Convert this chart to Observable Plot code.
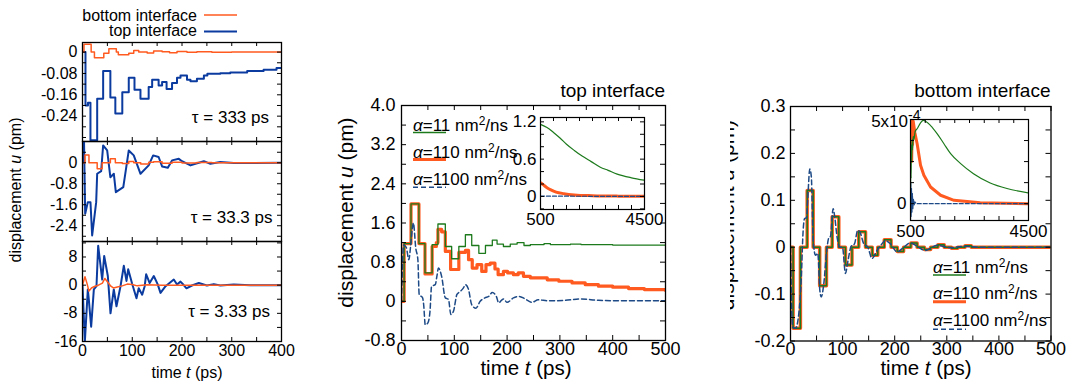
<!DOCTYPE html>
<html><head><meta charset="utf-8">
<script src="https://cdn.jsdelivr.net/npm/d3@7"></script>
<script src="https://cdn.jsdelivr.net/npm/@observablehq/plot@0.6"></script>
<style>
body{margin:0;background:#fff;}
#root{position:relative;width:1070px;height:385px;overflow:hidden;background:#fff;}
</style></head><body><div id="root"></div>
<script>
// ---------- DATA ----------
// Left column: top/bottom interface, three relaxation times tau
const tauLabels = ["333", "33.3", "3.33"];
const p1TopT = [0, 6, 11, 16, 29.5, 41.5, 56, 66, 80, 93, 104.5, 116.5, 133, 140, 153, 160, 169, 180, 190, 197, 210, 217, 230, 244, 251, 277, 297, 331, 364, 390, 400];
const p1TopU = [0, -0.2, -0.19, -0.33, -0.175, -0.071, -0.17, -0.23, -0.15, -0.096, -0.141, -0.175, -0.131, -0.104, -0.125, -0.112, -0.138, -0.116, -0.096, -0.088, -0.104, -0.109, -0.1, -0.088, -0.081, -0.079, -0.076, -0.071, -0.066, -0.06, -0.059];
const p1BotT = [0, 3, 17.4, 24, 42.8, 53, 68, 72, 93, 103, 113, 130, 143, 160, 175, 190, 210, 230, 260, 300, 400];
const p1BotU = [0, 0.029, 0, -0.021, -0.004, 0.0125, 0, -0.01, -0.004, 0.006, 0, -0.003, 0.004, 0.001, -0.002, 0.002, -0.001, 0.001, -0.001, 0, 0];
const p2TopT = [0, 2, 3, 5.4, 10.7, 16, 19.4, 27.5, 29.5, 37.5, 41.5, 49.6, 56, 63, 67, 82, 93, 103, 116.6, 133, 142, 153, 160, 171.5, 180, 193.6, 200, 217, 227, 244, 257, 277, 304, 400];
const p2TopU = [0, 0, 0.9, -1.94, -1.5, -1.5, -2.77, -1.5, -0.42, -0.32, 0.66, 0.47, -0.55, -0.42, -1.12, -0.93, 0.47, 0.28, -0.42, -0.1, 0.28, 0.22, -0.14, -0.19, 0.09, 0.15, 0.06, -0.1, -0.04, 0.06, -0.04, 0.03, -0.01, 0];
const p2BotT = [0, 5, 13, 29.5, 39.5, 56, 66, 80, 93, 103, 117, 133, 143, 160, 180, 200, 230, 260, 400];
const p2BotU = [0, 0.3, 0, -0.23, 0, 0.15, 0, -0.03, 0.05, 0, -0.05, 0.02, 0.04, -0.02, 0.02, -0.01, 0.01, 0, 0];
const p3TopT = [0, 4.7, 10.7, 12.7, 17.4, 22.8, 28.1, 31.5, 39.6, 43.6, 50.9, 56.3, 62.9, 68.3, 76.4, 83, 88.4, 91.8, 99.8, 108.5, 113, 120, 125, 128, 135, 143.3, 151, 156.8, 167, 183.5, 190, 197, 203, 209, 220, 233.8, 250, 264, 277, 304, 337, 400];
const p3TopU = [0, -16.1, -1.2, -4.1, -11.8, -1.2, -0.3, 11.2, 1.6, 8.3, 2.6, -8.0, -1.2, -6.0, -0.3, 5.5, 1.2, 4.5, 0.4, -3.7, -0.9, -2.7, -0.3, 3.1, 0.6, 2.6, 0.3, -2.2, -0.3, 1.6, 0.2, 1.0, 0.1, -0.9, -0.1, 0.6, -0.1, 0.3, -0.1, 0.2, 0, 0];
const p3BotT = [0, 5, 9, 13, 18, 25, 32, 40, 45, 52, 57, 62, 70, 80, 90, 100, 110, 130, 160, 400];
const p3BotU = [0, 2.4, 0.5, -1.7, -0.8, -0.3, 0, 0.6, 1.9, 0.6, -0.3, -0.8, -0.5, -0.2, 0.3, 0.2, -0.2, 0.1, 0, 0];

// Middle: top interface, three diffusivities alpha
const alphaValues = ["11", "110", "1100"];
const topGreenT = [0, 5, 18, 33, 44.5, 58, 69, 83, 95, 108.6, 121, 133, 146.5, 159, 172, 181, 193, 206, 219, 232, 244, 270, 282, 320, 340, 400, 500];
const topGreenU = [0, 1.18, 1.99, 1.18, 0.58, 1.16, 1.58, 1.12, 0.87, 1.12, 1.36, 1.14, 0.98, 1.14, 1.25, 1.17, 1.12, 1.17, 1.2, 1.14, 1.16, 1.18, 1.16, 1.17, 1.16, 1.15, 1.14];
const topOrangeT = [0, 5, 18, 33, 44.5, 58, 66, 69, 76, 83, 93, 108.6, 121, 127, 134, 143, 152, 160, 168, 177, 183, 193, 201, 212, 221, 231, 244, 276, 298, 323, 348, 373, 400, 430, 460, 500];
const topOrangeU = [0, 1.18, 1.99, 1.18, 0.56, 1.12, 1.2, 1.47, 1.42, 1.02, 0.65, 1.0, 1.04, 0.85, 0.68, 0.75, 0.61, 0.75, 0.78, 0.66, 0.545, 0.61, 0.58, 0.545, 0.58, 0.51, 0.48, 0.44, 0.41, 0.375, 0.34, 0.31, 0.29, 0.26, 0.24, 0.22];
const topDashT = [0, 4, 9, 14, 17, 22.5, 27, 31, 33.5, 40, 42, 45, 50, 54, 57, 64, 67, 70, 76, 83, 89, 93.5, 98.5, 105, 111, 117, 121, 127, 133, 141, 149, 158, 165, 172, 180, 184, 193, 200, 212, 223, 234, 247, 259, 278, 310, 341, 373, 420, 460, 500];
const topDashU = [0, 1.15, 1.1, 0.85, 1.1, 1.6, 1.09, 0.85, 0.14, 0.07, -0.07, -0.48, -0.44, -0.2, 0.31, 0.34, 0.51, 0.68, 0.51, 0.07, 0.04, -0.27, -0.2, 0.14, 0.2, 0.27, 0.34, 0.24, -0.07, -0.14, 0.0, 0.07, 0.1, 0.18, 0.09, -0.03, 0.05, -0.02, 0.07, 0.1, 0.05, -0.02, 0.03, 0.01, 0.02, 0.05, 0.02, 0.01, 0.01, 0.01];
// middle inset (t = 500..4500 ps)
const insGreenT = [500, 750, 1000, 1250, 1500, 1800, 2100, 2450, 2800, 3100, 3450, 4000, 4500];
const insGreenU = [1.16, 1.11, 1.03, 0.94, 0.84, 0.74, 0.65, 0.56, 0.47, 0.42, 0.36, 0.3, 0.26];
const insOrangeT = [500, 600, 750, 900, 1100, 1400, 1800, 2500, 3500, 4500];
const insOrangeU = [0.22, 0.19, 0.14, 0.105, 0.07, 0.045, 0.025, 0.012, 0.005, 0.003];
const insDashT = [500, 4500];
const insDashU = [0.005, 0];

// Right: bottom interface
const botStepT = [0, 5, 19, 32, 43.5, 56, 69, 80, 92.7, 105.5, 118, 131, 144, 157, 167.5, 180, 193, 205, 217, 231, 243, 257, 269, 283, 295, 309, 321, 335, 347, 500];
const botStepU = [0, -0.173, 0, 0.121, 0, -0.082, 0, 0.065, 0, -0.038, 0, 0.033, 0, -0.017, 0, 0.016, 0, -0.009, 0, 0.009, 0, -0.005, 0, 0.005, 0, -0.002, 0, 0.003, 0, 0];
const botDashT = [0, 4, 9.6, 16, 20.5, 24.3, 27, 30.7, 33, 37, 40, 43.5, 48, 52.4, 56.3, 59, 64, 69, 73.5, 76.7, 81.8, 84.5, 89.5, 94.6, 99.7, 105.5, 110, 116.4, 122.8, 129, 133, 140.7, 148.3, 156.6, 166, 174, 182, 191.8, 204.6, 217.4, 230, 243, 259, 281, 307, 332.5, 360, 400, 500];
const botDashU = [0, -0.17, -0.173, -0.141, -0.07, 0.036, 0.061, 0.063, 0.1, 0.167, 0.15, 0.015, -0.017, -0.013, -0.092, -0.106, -0.077, -0.013, 0.02, 0.023, 0.082, 0.068, 0.021, 0, 0, -0.056, -0.031, 0.002, 0.007, 0.036, 0.033, 0.007, 0, -0.024, -0.007, 0.005, 0.014, 0.007, -0.01, 0, 0.009, 0.002, -0.007, 0.004, -0.001, 0.002, 0, 0, 0];
// right inset
const rGreenT = [500, 510, 520, 530, 540, 555, 570, 590, 615, 660, 725, 840, 930, 1180, 1407, 1633, 1860, 2200, 2635, 3202, 3770, 4500];
const rGreenU = [0, 2.5e-4, 1.5e-4, 3.5e-4, 2.5e-4, 3.8e-4, 3.2e-4, 4.0e-4, 3.8e-4, 4.3e-4, 4.45e-4, 4.8e-4, 4.95e-4, 4.64e-4, 4.15e-4, 3.56e-4, 2.97e-4, 2.38e-4, 1.78e-4, 1.23e-4, 0.9e-4, 0.64e-4];
const rOrangeT = [500, 515, 525, 540, 555, 570, 592, 650, 725, 840, 953, 1180, 1520, 1975, 2862, 4500];
const rOrangeU = [5.6e-4, 3.0e-4, 5.2e-4, 2.5e-4, 4.8e-4, 3.5e-4, 4.9e-4, 4.2e-4, 3.56e-4, 2.28e-4, 1.69e-4, 0.99e-4, 0.5e-4, 0.2e-4, 0.05e-4, 0];
const rDashT = [500, 510, 520, 535, 550, 565, 580, 600, 620, 650, 700, 4500];
const rDashU = [-1e-4, 1.2e-4, -0.8e-4, 0.9e-4, -0.5e-4, 0.6e-4, -0.3e-4, 0.3e-4, -0.1e-4, 0.1e-4, 0, 0];

// Tick labels
const leftTimeLabels = [0, 100, 200, 300, 400];
const p1Labels = [0, -0.08, -0.16, -0.24];
const p2Labels = [0, -0.8, -1.6, -2.4];
const p3Labels = [8, 0, -8, -16];
const mainTimeLabels = [0, 100, 200, 300, 400, 500];
const midLabels = [-0.8, 0, 0.8, 1.6, 2.4, 3.2, 4.0];
const rightLabels = [-0.2, -0.1, 0, 0.1, 0.2, 0.3];
const insetTimeLabels = [500, 4500];
const midInsetLabels = [0, 0.6, 1.2];
const rightInsetLabels = [0];

// ---------- RENDERING ----------
const FONT = "'Liberation Sans', Arial, Helvetica, sans-serif";
const ORANGE = "#ff5a1f", BLUE = "#0b3b9f", GREEN = "#1c7a1c", DBLUE = "#1d4a86";
const root = document.getElementById("root");
const pts = (T, U) => T.map((t, i) => ({t, u: U[i]}));
const line = (T, U, o) => Plot.line(pts(T, U), {x: "t", y: "u", clip: true, ...o});

function panel({x0, y0, w, h, xDomain, yDomain, marks, xTicks, yTicks, xLabels = [], yLabels = [], xFmt = String, yFmt = String, tick = 5, font = 18, padX = 2, padY = 5, fill = null, sw = 1.3}) {
  const M = 40;
  const svg = Plot.plot({
    width: w + 2 * M, height: h + 2 * M,
    marginTop: M, marginRight: M, marginBottom: M, marginLeft: M,
    x: {domain: xDomain, label: null, axis: null},
    y: {domain: yDomain, label: null, axis: null},
    style: {background: "transparent", overflow: "visible", fontSize: font + "px", fontFamily: FONT, color: "black"},
    marks: [
      fill ? Plot.frame({fill}) : null,
      ...marks,
      Plot.tickX(xTicks, {x: d => d, insetTop: h - tick, stroke: "black", strokeWidth: 1}),
      Plot.tickX(xTicks, {x: d => d, insetBottom: h - tick, stroke: "black", strokeWidth: 1}),
      Plot.tickY(yTicks, {y: d => d, insetRight: w - tick, stroke: "black", strokeWidth: 1}),
      Plot.tickY(yTicks, {y: d => d, insetLeft: w - tick, stroke: "black", strokeWidth: 1}),
      xLabels.length ? Plot.axisX(xLabels, {anchor: "bottom", tickSize: 0, tickPadding: padX, tickFormat: xFmt, label: null}) : null,
      yLabels.length ? Plot.axisY(yLabels, {anchor: "left", tickSize: 0, tickPadding: padY, tickFormat: yFmt, label: null}) : null,
      Plot.frame({stroke: "black", strokeWidth: sw})
    ]
  });
  const div = document.createElement("div");
  div.style.cssText = `position:absolute;left:${x0 - M}px;top:${y0 - M}px;width:${w + 2 * M}px;height:${h + 2 * M}px;`;
  div.appendChild(svg);
  root.appendChild(div);
}

const fmt1 = d => d === 0 ? "0" : d.toFixed(1);
const leftTicksX = d3.range(0, 401, 50);

// Left column
panel({x0: 82, y0: 42, w: 199, h: 99, xDomain: [0, 400], yDomain: [-0.335, 0.036],
  xTicks: leftTicksX, yTicks: d3.range(-0.32, 0.03, 0.04), yLabels: p1Labels,
  yFmt: d => d === 0 ? "0" : d.toFixed(2), tick: 4, font: 16, padY: 5,
  marks: [line(p1TopT, p1TopU, {stroke: BLUE, strokeWidth: 2, curve: "step-after"}),
          line(p1BotT, p1BotU, {stroke: ORANGE, strokeWidth: 1.5, curve: "step-after"})]});
panel({x0: 82, y0: 141, w: 199, h: 100, xDomain: [0, 400], yDomain: [-3.0, 0.81],
  xTicks: leftTicksX, yTicks: d3.range(-2.8, 0.5, 0.4), yLabels: p2Labels,
  yFmt: fmt1, tick: 4, font: 16, padY: 5,
  marks: [line(p2TopT, p2TopU, {stroke: BLUE, strokeWidth: 2}),
          line(p2BotT, p2BotU, {stroke: ORANGE, strokeWidth: 1.5, curve: "step-after"})]});
panel({x0: 82, y0: 241, w: 199, h: 100, xDomain: [0, 400], yDomain: [-16, 12.4],
  xTicks: leftTicksX, yTicks: d3.range(-12, 12.1, 4), yLabels: p3Labels, xLabels: leftTimeLabels,
  tick: 4, font: 16, padY: 5, padX: 3.5,
  marks: [line(p3TopT, p3TopU, {stroke: BLUE, strokeWidth: 2}),
          line(p3BotT, p3BotU, {stroke: ORANGE, strokeWidth: 1.5})]});

// Middle main
panel({x0: 401, y0: 105, w: 264, h: 235, xDomain: [0, 500], yDomain: [-0.8, 4.0],
  xTicks: d3.range(0, 501, 50), yTicks: d3.range(-0.8, 4.01, 0.4), xLabels: mainTimeLabels, yLabels: midLabels,
  yFmt: fmt1, font: 18, padY: 6, padX: 1.5,
  marks: [line(topOrangeT, topOrangeU, {stroke: ORANGE, strokeWidth: 3.2, curve: "step-after"}),
          line(topGreenT, topGreenU, {stroke: GREEN, strokeWidth: 1.3, curve: "step-after"}),
          line(topDashT, topDashU, {stroke: DBLUE, strokeWidth: 1.5, strokeDasharray: "5,3", curve: "monotone-x"})]});
// Middle inset
panel({x0: 540, y0: 117, w: 104, h: 92, xDomain: [500, 4500], yDomain: [-0.21, 1.27],
  xTicks: d3.range(500, 4501, 500), yTicks: d3.range(-0.2, 1.21, 0.2), xLabels: insetTimeLabels, yLabels: midInsetLabels,
  yFmt: fmt1, font: 17, tick: 4, padY: 4, padX: 3.5, fill: "white", sw: 1.2,
  marks: [line(insOrangeT, insOrangeU, {stroke: ORANGE, strokeWidth: 3, curve: "monotone-x"}),
          line(insGreenT, insGreenU, {stroke: GREEN, strokeWidth: 1.2, curve: "monotone-x"}),
          line(insDashT, insDashU, {stroke: DBLUE, strokeWidth: 1.2, strokeDasharray: "4,2"})]});

// Right main
panel({x0: 790, y0: 105.5, w: 260.5, h: 234.5, xDomain: [0, 500], yDomain: [-0.2, 0.3],
  xTicks: d3.range(0, 501, 50), yTicks: d3.range(-0.2, 0.31, 0.05), xLabels: mainTimeLabels, yLabels: rightLabels,
  yFmt: fmt1, font: 18, padY: 5, padX: 1.5,
  marks: [line(botStepT, botStepU, {stroke: ORANGE, strokeWidth: 3.5, curve: "step-after"}),
          line(botStepT, botStepU, {stroke: GREEN, strokeWidth: 1.5, curve: "step-after"}),
          line(botDashT, botDashU, {stroke: DBLUE, strokeWidth: 1.5, strokeDasharray: "5,3", curve: "monotone-x"})]});
// Right inset
panel({x0: 910, y0: 119, w: 118, h: 101, xDomain: [500, 4500], yDomain: [-1e-4, 5e-4],
  xTicks: d3.range(500, 4501, 500), yTicks: [0, 1.25e-4, 2.5e-4, 3.75e-4], xLabels: insetTimeLabels, yLabels: rightInsetLabels,
  yFmt: () => "0", font: 17, tick: 4, padY: 4, padX: 4, fill: "white", sw: 1.2,
  marks: [line(rOrangeT, rOrangeU, {stroke: ORANGE, strokeWidth: 3}),
          line(rGreenT, rGreenU, {stroke: GREEN, strokeWidth: 1.2, curve: "monotone-x"}),
          line(rDashT, rDashU, {stroke: DBLUE, strokeWidth: 1.2, strokeDasharray: "4,2"})]});

// ---------- Text overlay (titles, legends, labels) ----------
const disp = `displacement <tspan font-style="italic">u</tspan> (pm)`;
const time = `time <tspan font-style="italic">t</tspan> (ps)`;
function legendRow(x, yBase, yLine, a, color, width, dash) {
  return `<text x="${x}" y="${yBase}" font-size="17"><tspan font-style="italic">α</tspan>=${a} nm<tspan dy="-6" font-size="12">2</tspan><tspan dy="6">/ns</tspan></text>
  <line x1="${x}" x2="${x + 33}" y1="${yLine}" y2="${yLine}" stroke="${color}" stroke-width="${width}" ${dash ? `stroke-dasharray="${dash}"` : ""}/>`;
}
const ov = `<svg width="1070" height="385" style="position:absolute;left:0;top:0;font-family:${FONT}" fill="black">
<defs><clipPath id="rclip"><rect x="730" y="0" width="340" height="385"/></clipPath></defs>
<text x="197" y="20.5" text-anchor="end" font-size="16">bottom interface</text>
<line x1="204" x2="237" y1="15" y2="15" stroke="${ORANGE}" stroke-width="1.5"/>
<text x="197" y="36" text-anchor="end" font-size="16">top interface</text>
<line x1="204" x2="237" y1="31.5" y2="31.5" stroke="${BLUE}" stroke-width="2"/>
<text x="269" y="123" text-anchor="end" font-size="17">τ = ${tauLabels[0]} ps</text>
<text x="272.5" y="223" text-anchor="end" font-size="17">τ = ${tauLabels[1]} ps</text>
<text x="270" y="316.5" text-anchor="end" font-size="17">τ = ${tauLabels[2]} ps</text>
<text transform="translate(21,190) rotate(-90)" text-anchor="middle" font-size="16">${disp}</text>
<text x="187" y="378" text-anchor="middle" font-size="16">${time}</text>
<text transform="translate(353,212.5) rotate(-90)" text-anchor="middle" font-size="21">${disp}</text>
<text x="526" y="375" text-anchor="middle" font-size="20.5">${time}</text>
<text x="665" y="96.5" text-anchor="end" font-size="19">top interface</text>
<g clip-path="url(#rclip)"><text transform="translate(734,215) rotate(-90)" text-anchor="middle" font-size="21">${disp}</text></g>
<text x="926" y="375" text-anchor="middle" font-size="20.5">${time}</text>
<text x="1050.5" y="96.5" text-anchor="end" font-size="19">bottom interface</text>
${legendRow(413, 130.5, 132.5, alphaValues[0], GREEN, 1.5)}
${legendRow(413, 157.5, 159.5, alphaValues[1], ORANGE, 3)}
${legendRow(413, 184.5, 187.3, alphaValues[2], DBLUE, 1.5, "5,3")}
${legendRow(933, 272.5, 275, alphaValues[0], GREEN, 1.5)}
${legendRow(933, 299, 301.7, alphaValues[1], ORANGE, 3)}
${legendRow(933, 326, 329.3, alphaValues[2], DBLUE, 1.5, "5,3")}
<text x="908" y="127" text-anchor="end" font-size="17">5x10</text>
<text x="908" y="120" font-size="14">-4</text>
</svg>`;
root.insertAdjacentHTML("beforeend", ov);
</script></body></html>
